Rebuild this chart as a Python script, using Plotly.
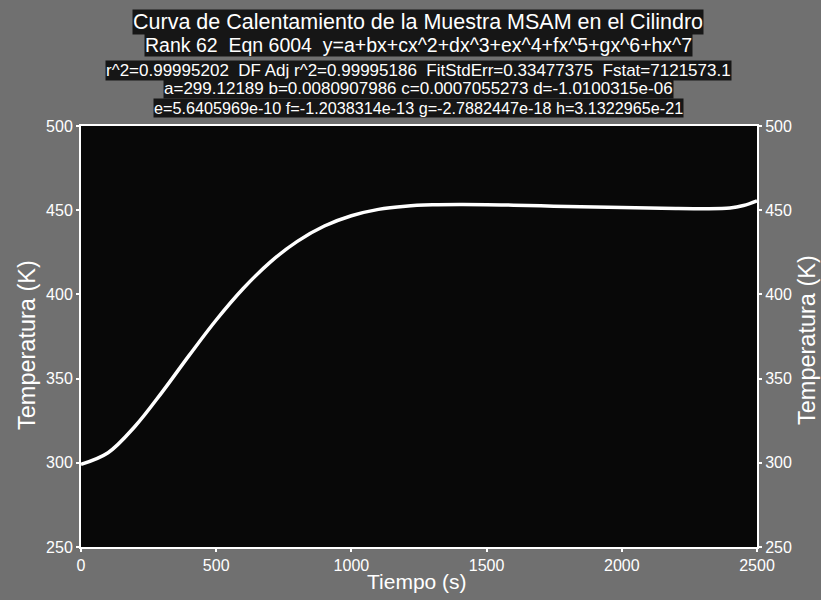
import plotly.graph_objects as go

# Data
tiempo = [0, 100, 200, 300, 400, 500, 600, 700, 800, 900, 1000, 1100, 1200,
          1300, 1400, 1500, 1600, 1700, 1800, 1900, 2000, 2100, 2200, 2300,
          2400, 2450, 2500]
temperatura = [299.1, 306.0, 321.7, 342.0, 363.8, 384.8, 403.5, 419.2, 431.5,
               440.6, 446.7, 450.5, 452.4, 453.2, 453.4, 453.3, 453.0, 452.6,
               452.2, 451.9, 451.6, 451.3, 451.0, 450.9, 451.3, 452.8, 455.6]

x_ticks = [0, 500, 1000, 1500, 2000, 2500]
y_ticks = [250, 300, 350, 400, 450, 500]

title_lines = [
    "Curva de Calentamiento de la Muestra MSAM en el Cilindro",
    "Rank 62  Eqn 6004  y=a+bx+cx^2+dx^3+ex^4+fx^5+gx^6+hx^7",
    "r^2=0.99995202  DF Adj r^2=0.99995186  FitStdErr=0.33477375  Fstat=7121573.1",
    "a=299.12189 b=0.0080907986 c=0.0007055273 d=-1.0100315e-06",
    "e=5.6405969e-10 f=-1.2038314e-13 g=-2.7882447e-18 h=3.1322965e-21",
]
x_title = "Tiempo (s)"
y_title = "Temperatura (K)"

FONT = "Liberation Sans, Arial, sans-serif"

fig = go.Figure()
fig.add_trace(go.Scatter(x=tiempo, y=temperatura, mode="lines",
                         line=dict(color="white", width=3.5, shape="spline"),
                         showlegend=False, hoverinfo="skip"))
fig.add_trace(go.Scatter(x=tiempo, y=temperatura, mode="lines", yaxis="y2",
                         line=dict(color="white", width=0), opacity=0,
                         showlegend=False, hoverinfo="skip"))

axis_common = dict(showgrid=False, zeroline=False, showline=True,
                   linecolor="white", linewidth=2, ticks="outside",
                   tickcolor="white", ticklen=3, tickwidth=1.5,
                   tickfont=dict(color="white", size=16, family=FONT))

L, R, T, B = 81, 757, 126, 547
W, H = 821, 600
PW, PH = R - L, B - T

fig.update_layout(
    width=W, height=H,
    margin=dict(l=L, r=W - R, t=T, b=H - B),
    paper_bgcolor="#707070",
    plot_bgcolor="#080808",
    xaxis=dict(range=[0, 2500], tickvals=x_ticks, mirror=True, **axis_common),
    yaxis=dict(range=[250, 500], tickvals=y_ticks, **axis_common),
    yaxis2=dict(range=[250, 500], tickvals=y_ticks, overlaying="y",
                side="right", **axis_common),
)


def px_x(px):
    return (px - L) / PW


def px_y(py):
    return (B - py) / PH


ys = [22, 45, 70, 89, 108]
sizes = [21.5, 19.5, 17, 17, 16.2]
for txt, yy, sz in zip(title_lines, ys, sizes):
    fig.add_annotation(text=txt, x=px_x(418), xref="paper", y=px_y(yy),
                       yref="paper", xanchor="center", yanchor="middle",
                       showarrow=False, bgcolor="#161616", borderpad=0,
                       font=dict(color="white", size=sz, family=FONT))

fig.add_annotation(text=x_title, x=px_x(417), y=px_y(581), xref="paper",
                   yref="paper", xanchor="center", yanchor="middle",
                   showarrow=False,
                   font=dict(color="white", size=21, family=FONT))
for cx, cy in [(27, 345), (807, 340)]:
    fig.add_annotation(text=y_title, x=px_x(cx), y=px_y(cy), xref="paper",
                       yref="paper", xanchor="center", yanchor="middle",
                       textangle=-90, showarrow=False,
                       font=dict(color="white", size=23.5, family=FONT))

fig.write_html("out.html", config={"displayModeBar": False},
               post_script="document.body.style.margin='0px';")
